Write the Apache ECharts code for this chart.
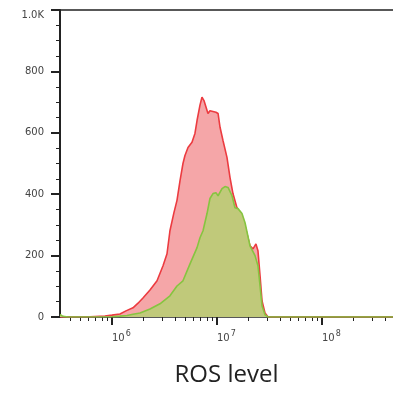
<!DOCTYPE html>
<html>
<head>
<meta charset="utf-8">
<script src="https://cdn.jsdelivr.net/npm/echarts@6/dist/echarts.min.js"></script>
<style>
  html, body { margin: 0; padding: 0; background: #fff; }
  #main { width: 393px; height: 396px; }
</style>
</head>
<body>
<div id="main"></div>
<script>
// x positions are log10 of the ROS intensity
var redLogX   = [5.505, 5.790, 5.933, 6.000, 6.076, 6.133, 6.200, 6.248, 6.295, 6.362, 6.429, 6.486, 6.524, 6.552, 6.590, 6.619, 6.648, 6.676, 6.695, 6.724, 6.762, 6.790, 6.810, 6.838, 6.857, 6.876, 6.895, 6.914, 6.933, 6.952, 6.990, 7.010, 7.029, 7.057, 7.095, 7.124, 7.152, 7.190, 7.238, 7.267, 7.314, 7.343, 7.371, 7.390, 7.410, 7.429, 7.457, 7.486, 8.676];
var redCount  = [0, 1, 3, 6, 10, 20, 30, 45, 62, 88, 118, 167, 206, 281, 340, 380, 444, 500, 526, 552, 569, 598, 640, 690, 716, 705, 699, 663, 672, 667, 667, 663, 618, 575, 520, 454, 402, 356, 324, 297, 232, 222, 238, 216, 134, 52, 13, 0, 0];

var greenLogX  = [5.505, 5.533, 5.581, 6.000, 6.076, 6.143, 6.200, 6.267, 6.362, 6.457, 6.552, 6.619, 6.676, 6.743, 6.810, 6.838, 6.867, 6.905, 6.933, 6.962, 6.990, 7.010, 7.048, 7.076, 7.105, 7.143, 7.171, 7.200, 7.238, 7.267, 7.314, 7.362, 7.390, 7.410, 7.429, 7.457, 7.486, 8.676];
var greenCount = [8, 2, 0, 1, 3, 5, 9, 13, 26, 43, 69, 101, 118, 173, 226, 258, 281, 337, 386, 402, 405, 395, 418, 425, 422, 395, 356, 353, 337, 307, 232, 200, 167, 101, 36, 7, 0, 0];

var decades = [6, 7, 8];

var xMin = 5.505, xMax = 8.676;

// minor tick spots 2..9 within each decade
var minorX = [];
for (var d = 5; d <= 8; d++) {
    for (var k = 2; k <= 9; k++) {
        var v = d + Math.log10(k);
        if (v > xMin && v < xMax) minorX.push(v);
    }
}

function pairs(xs, ys) {
    var out = [];
    for (var i = 0; i < xs.length; i++) out.push([xs[i], ys[i]]);
    return out;
}

var myChart = echarts.init(document.getElementById('main'));
var option = {
    backgroundColor: '#fff',
    animation: false,
    grid: { left: 60, right: 0, top: 10, bottom: 79 },
    xAxis: [
        {
            type: 'value', min: xMin, max: xMax, position: 'bottom',
            name: 'ROS level', nameLocation: 'middle', nameGap: 46,
            nameTextStyle: { fontFamily: 'Open Sans', fontSize: 24, color: '#222' },
            axisLine: { show: true, onZero: false, lineStyle: { color: '#222', width: 1.5 } },
            axisTick: { show: true, length: 8, customValues: decades, lineStyle: { color: '#222', width: 2 } },
            axisLabel: {
                customValues: decades, align: 'left', margin: 13,
                formatter: function (v) { return '{b|10}{s|' + v + '}'; },
                rich: {
                    b: { fontFamily: 'DejaVu Sans', fontSize: 10, color: '#444' },
                    s: { fontFamily: 'DejaVu Sans', fontSize: 8, color: '#444', padding: [0, 0, 9, 1] }
                }
            },
            splitLine: { show: false }
        },
        {
            type: 'value', min: xMin, max: xMax, position: 'bottom',
            axisLine: { show: false },
            axisTick: { show: true, length: 4, customValues: minorX, lineStyle: { color: '#222', width: 1 } },
            axisLabel: { show: false },
            splitLine: { show: false }
        },
        {
            type: 'value', min: xMin, max: xMax, position: 'top',
            axisLine: { show: true, lineStyle: { color: '#222', width: 1.5 } },
            axisTick: { show: false },
            axisLabel: { show: false },
            splitLine: { show: false }
        }
    ],
    yAxis: {
        type: 'value', min: 0, max: 1000, interval: 200,
        axisLine: { show: true, lineStyle: { color: '#222', width: 2 } },
        axisTick: { show: true, length: 9, lineStyle: { color: '#222', width: 2 } },
        minorTick: { show: true, splitNumber: 4, length: 4, lineStyle: { color: '#222', width: 1 } },
        axisLabel: {
            margin: 16, fontFamily: 'DejaVu Sans', fontSize: 10, color: '#444',
            formatter: function (v) { return v >= 1000 ? '{t|' + (v / 1000).toFixed(1) + 'K}' : String(v); },
            rich: { t: { fontFamily: 'DejaVu Sans', fontSize: 10, color: '#444', padding: [10, 0, 0, 0] } }
        },
        splitLine: { show: false }
    },
    series: [
        {
            name: 'red', type: 'line', data: pairs(redLogX, redCount),
            symbol: 'none', smooth: false,
            lineStyle: { color: '#ec3b40', width: 1.6 },
            areaStyle: { color: '#f5a6a8', opacity: 1 },
            z: 2
        },
        {
            name: 'green', type: 'line', data: pairs(greenLogX, greenCount),
            symbol: 'none', smooth: false,
            lineStyle: { color: '#86c440', width: 1.6 },
            areaStyle: { color: '#c0c97a', opacity: 1 },
            z: 3
        }
    ]
};
myChart.setOption(option);
</script>
</body>
</html>
